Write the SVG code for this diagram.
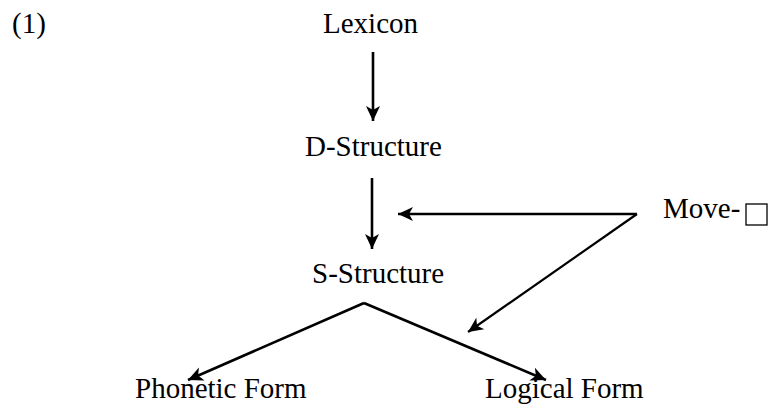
<svg xmlns="http://www.w3.org/2000/svg" width="769" height="415" viewBox="0 0 769 415">
<style>
.lbl { font-family: 'Liberation Serif', 'Times New Roman', Times, serif; font-size: 29px; fill: #000; }
.c { fill: none; stroke: #000; stroke-width: 2.6; }
.t { stroke-width: 2.2; }
</style>
<defs>
<marker id="ah" markerUnits="userSpaceOnUse" markerWidth="20" markerHeight="16" viewBox="-16 -8 18 16" refX="0" refY="0" orient="auto">
<path d="M0,0 L-15,-7 L-11,0 L-15,7 Z" fill="#000"/>
</marker>
</defs>
<rect width="769" height="415" fill="#fff"/>
<g id="label-1"><text class="lbl" font-family="Liberation Serif, serif" x="12" y="33">(1)</text></g>
<g id="lexicon"><text class="lbl" font-family="Liberation Serif, serif" x="323" y="33">Lexicon</text></g>
<g id="d-structure"><text class="lbl" font-family="Liberation Serif, serif" x="305" y="156">D-Structure</text></g>
<g id="s-structure"><text class="lbl" font-family="Liberation Serif, serif" x="312" y="283">S-Structure</text></g>
<g id="phonetic-form"><text class="lbl" font-family="Liberation Serif, serif" x="135" y="398">Phonetic Form</text></g>
<g id="logical-form"><text class="lbl" font-family="Liberation Serif, serif" x="485" y="398">Logical Form</text></g>
<g id="move"><text class="lbl" font-family="Liberation Serif, serif" x="663" y="218">Move-</text><rect x="746" y="204" width="21" height="21" fill="none" stroke="#000" stroke-width="1.3"/></g>
<g id="connectors">
<line class="c" x1="373" y1="52" x2="373" y2="121" marker-end="url(#ah)"/>
<line class="c" x1="372" y1="178" x2="372" y2="249" marker-end="url(#ah)"/>
<line class="c" x1="637" y1="214" x2="398" y2="214" marker-end="url(#ah)"/>
<line class="c t" x1="637" y1="214" x2="468" y2="332" marker-end="url(#ah)"/>
<line class="c" x1="364" y1="303" x2="188" y2="380" marker-end="url(#ah)"/>
<line class="c" x1="364" y1="303" x2="546" y2="380" marker-end="url(#ah)"/>
</g>
</svg>
